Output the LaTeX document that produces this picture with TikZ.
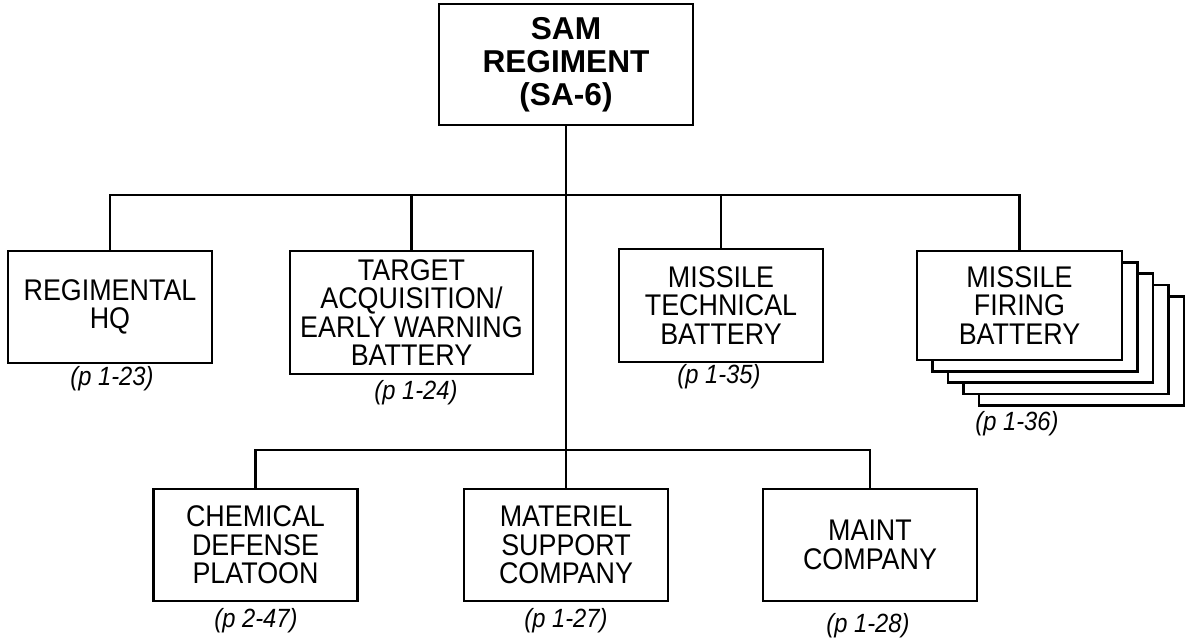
\documentclass[tikz,border=0pt]{standalone}
\usepackage{fontspec}
\newfontfamily\orgfont[FakeStretch=0.9]{Liberation Sans}
\newfontfamily\capofont{Liberation Sans}

\begin{document}
\begin{tikzpicture}[x=0.02cm,y=-0.02cm,line join=miter,line width=1.5pt,
  unita/.style={draw,fill=white,align=center,inner sep=2pt,
    minimum width=4.08cm,minimum height=2.24cm,
    font=\orgfont\fontsize{17}{16.2}\selectfont},
  rif/.style={inner sep=1pt,font=\orgfont\itshape\fontsize{15}{15}\selectfont}]

  \useasboundingbox (0,0) rectangle (1186,638);

  % ---- il comando di reggimento --------------------------------------------
  \node[unita,minimum width=5.08cm,minimum height=2.42cm,
        font=\capofont\bfseries\fontsize{18}{18.8}\selectfont]
    (sam) at (566,64.5) {SAM\\REGIMENT\\(SA-6)};

  % ---- prima fila ----------------------------------------------------------
  \node[unita] (rhq) at (110,307) {REGIMENTAL\\HQ};
  \node[unita,minimum width=4.86cm,minimum height=2.46cm] (taew) at (411.5,312.5)
    {TARGET\\ACQUISITION/\\EARLY WARNING\\BATTERY};
  \node[unita,minimum height=2.26cm] (mtb) at (721,305.5) {MISSILE\\TECHNICAL\\BATTERY};

  % ---- le batterie di lancio, quattro copie dietro -------------------------
  \foreach \k in {4,3,2,1}{
    \draw[fill=white] (917+15.5*\k,251+11.3*\k) rectangle (1122+15.5*\k,360+11.3*\k);
  }
  \node[unita,minimum width=4.1cm,minimum height=2.18cm] (mfb) at (1019.5,305.5)
    {MISSILE\\FIRING\\BATTERY};

  % ---- seconda fila --------------------------------------------------------
  \node[unita] (cdp) at (255.5,545) {CHEMICAL\\DEFENSE\\PLATOON};
  \node[unita] (msc) at (566,545) {MATERIEL\\SUPPORT\\COMPANY};
  \node[unita,minimum width=4.28cm] (mco) at (870,545) {MAINT\\COMPANY};

  % ---- collegamenti --------------------------------------------------------
  \coordinate (alto) at (566,195);
  \coordinate (basso) at (566,450);
  \draw (sam.south) -- (msc.north);
  \draw (rhq.north) |- (alto) -| (mfb.north);
  \draw (taew.north) -- (taew.north |- alto);
  \draw (mtb.north) -- (mtb.north |- alto);
  \draw (cdp.north) |- (basso) -| (mco.north);

  % ---- rimandi alle pagine -------------------------------------------------
  \node[rif] (rhq-p)  at (112,379)  {(p 1-23)};
  \node[rif] (taew-p) at (416,393)  {(p 1-24)};
  \node[rif] (mtb-p)  at (719,377)  {(p 1-35)};
  \node[rif] (mfb-p)  at (1017,424) {(p 1-36)};
  \node[rif] (cdp-p)  at (256,621)  {(p 2-47)};
  \node[rif] (msc-p)  at (566,621)  {(p 1-27)};
  \node[rif] (mco-p)  at (868,626)  {(p 1-28)};

\end{tikzpicture}
\end{document}
